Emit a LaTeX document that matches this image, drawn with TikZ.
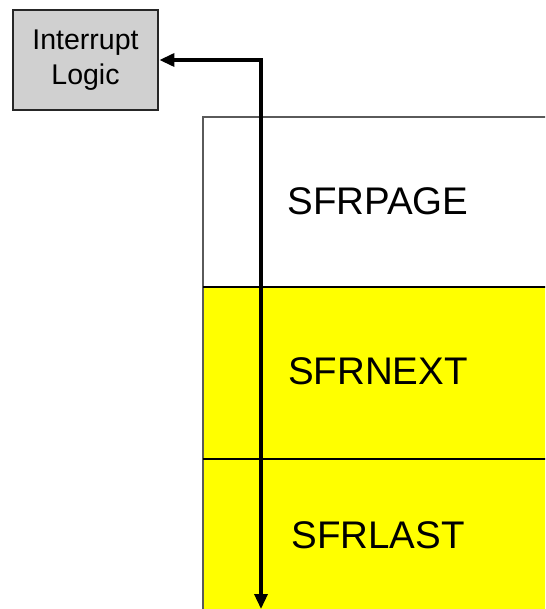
\documentclass[tikz,border=0pt]{standalone}
\usepackage{fontspec}
\setmainfont{Liberation Sans}
\usetikzlibrary{arrows.meta}
\definecolor{boxgray}{RGB}{208,208,208}
\definecolor{regyellow}{RGB}{255,255,0}
\definecolor{edgegray}{RGB}{90,90,90}
\tikzset{
  logicbox/.style={draw=black!85, line width=2.8pt, fill=boxgray, minimum width=145pt, minimum height=100pt, inner sep=0pt, align=center, font=\fontsize{28.5}{35}\selectfont},
  reglabel/.style={font=\fontsize{38.5}{42}\selectfont, inner sep=0pt},
  divider/.style={line width=2.6pt, black},
  conn/.style={line width=3.4pt, {Triangle[length=15pt,width=13pt]}-{Triangle[length=15pt,width=13pt]}}
}
\begin{document}
\begin{tikzpicture}[x=1pt,y=-1pt]
\clip (0,0) rectangle (545,609);
\fill[white] (0,0) rectangle (545,609);
% register stack
\fill[white] (203,117) rectangle (560,287);
\fill[regyellow] (203,287) rectangle (560,620);
\draw[edgegray, line width=1.6pt] (560,117) -- (203,117) -- (203,620);
\draw[divider] (203,287) -- (560,287);
\draw[divider] (203,459) -- (560,459);
\node[reglabel] (pg) at (378,201) {SFRPAGE};
\node[reglabel] (nx) at (378,371) {SFRNEXT};
\node[reglabel] (ls) at (378,535) {SFRLAST};
% interrupt logic
\node[logicbox] (il) at (85.5,60) {Interrupt\\Logic};
\coordinate (bot) at (261,609);
\draw[conn] (il.east) -| (bot);
\end{tikzpicture}
\end{document}
